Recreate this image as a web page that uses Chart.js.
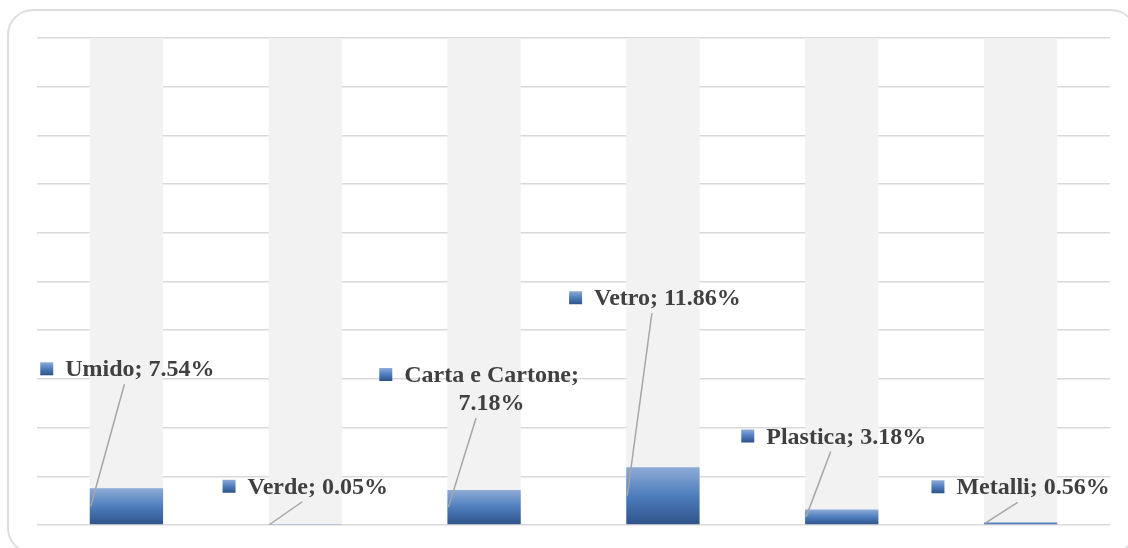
<!DOCTYPE html>
<html>
<head>
<meta charset="utf-8">
<script src="https://cdn.jsdelivr.net/npm/chart.js@4"></script>
<style>
  html, body { margin: 0; padding: 0; background: #fff; overflow: hidden; }
  #frame {
    position: absolute; left: 7px; top: 9px; width: 1126px; height: 541px;
    border: 2px solid #dedede; border-radius: 26px;
  }
  #chart { position: absolute; left: 0; top: 0; }
</style>
</head>
<body>
<div id="frame"></div>
<canvas id="chart" width="1128" height="548"></canvas>
<script>
// ---- dati ----
const categories = ['Umido', 'Verde', 'Carta e Cartone', 'Vetro', 'Plastica', 'Metalli'];
const percentuali = [7.54, 0.05, 7.18, 11.86, 3.18, 0.56];
const fondo = [100, 100, 100, 100, 100, 100];
const yTicks = [0, 10, 20, 30, 40, 50, 60, 70, 80, 90, 100];

// posizione delle etichette rispetto alla cima della barra (px)
const labelDx = [1, 0, -5, -8, -8, 0];
const labelDy = [-119, -38, -115, -169, -73, -35];
// righe di testo di ogni etichetta
const labelLines = [
  ['Umido; 7.54%'],
  ['Verde; 0.05%'],
  ['Carta e Cartone;', '7.18%'],
  ['Vetro; 11.86%'],
  ['Plastica; 3.18%'],
  ['Metalli; 0.56%']
];

const FONT = 'bold 24px "Liberation Serif", "Times New Roman", serif';

function blueGradient(ctx, top, bottom) {
  const g = ctx.createLinearGradient(0, top, 0, bottom);
  g.addColorStop(0, '#8eabd6');
  g.addColorStop(0.5, '#4d7dbd');
  g.addColorStop(1, '#2e5288');
  return g;
}

// etichette con quadratino e linea guida
const calloutPlugin = {
  id: 'callout',
  afterDatasetsDraw(chart) {
    const ctx = chart.ctx;
    const meta = chart.getDatasetMeta(0);
    ctx.save();
    ctx.font = FONT;
    ctx.textBaseline = 'middle';
    meta.data.forEach((bar, i) => {
      const lines = labelLines[i];
      const textW = Math.max(...lines.map(l => ctx.measureText(l).width));
      const boxW = 13 + 12 + textW;
      const cx = bar.x + labelDx[i];
      const cy = bar.y + labelDy[i];
      const left = cx - boxW / 2;
      const textCx = left + 25 + textW / 2;

      // linea guida
      const lastY = cy + (lines.length - 1) * 28;
      ctx.strokeStyle = '#a6a6a6';
      ctx.lineWidth = 1.5;
      ctx.beginPath();
      ctx.moveTo(cx - 3, lastY + 15);
      ctx.lineTo(bar.x - bar.width / 2 + 1, (bar.y + bar.base) / 2);
      ctx.stroke();

      // quadratino della legenda
      ctx.fillStyle = blueGradient(ctx, cy - 7, cy + 6);
      ctx.fillRect(left, cy - 7, 13, 13);

      // testo
      ctx.fillStyle = '#404040';
      ctx.textAlign = 'center';
      lines.forEach((l, k) => ctx.fillText(l, textCx, cy + 1 + k * 28));
    });
    ctx.restore();
  }
};

new Chart(document.getElementById('chart'), {
  type: 'bar',
  data: {
    labels: categories,
    datasets: [
      {
        data: percentuali,
        backgroundColor(c) {
          const chart = c.chart;
          if (!chart.chartArea || c.dataIndex === undefined) return '#4d7dbd';
          const y = chart.scales.y;
          const top = y.getPixelForValue(percentuali[c.dataIndex]);
          const bottom = y.getPixelForValue(0);
          return blueGradient(chart.ctx, top, Math.max(bottom, top + 1));
        },
        grouped: false,
        barPercentage: 0.41,
        categoryPercentage: 1
      },
      {
        data: fondo,
        backgroundColor: '#f2f2f2',
        grouped: false,
        barPercentage: 0.41,
        categoryPercentage: 1
      }
    ]
  },
  options: {
    responsive: false,
    devicePixelRatio: 1,
    animation: false,
    layout: { padding: { left: 37, top: 38, right: 18, bottom: 23 } },
    plugins: { legend: { display: false }, tooltip: { enabled: false } },
    scales: {
      x: {
        grid: { display: false, drawTicks: false },
        border: { display: false },
        ticks: { display: false }
      },
      y: {
        min: 0,
        max: 100,
        afterBuildTicks(scale) { scale.ticks = yTicks.map(v => ({ value: v })); },
        grid: { color: '#d9d9d9', lineWidth: 1.5, drawTicks: false },
        border: { display: false },
        ticks: { display: false }
      }
    }
  },
  plugins: [calloutPlugin]
});
</script>
</body>
</html>
